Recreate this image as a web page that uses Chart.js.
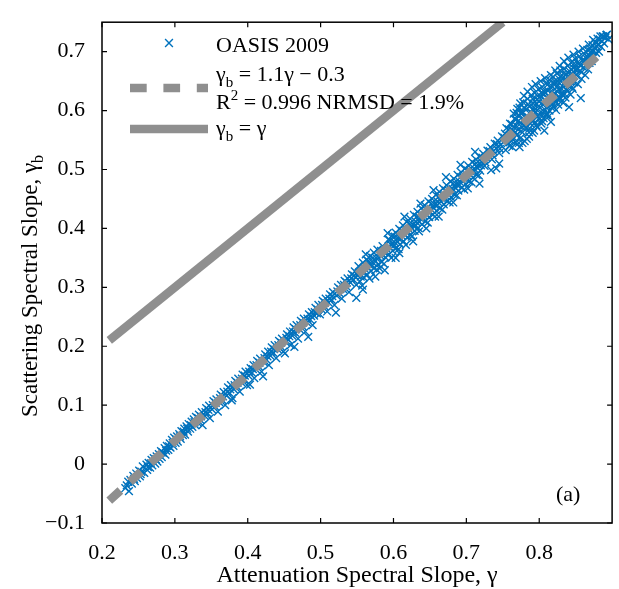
<!DOCTYPE html>
<html>
<head>
<meta charset="utf-8">
<script src="https://cdn.jsdelivr.net/npm/chart.js@4.4.1/dist/chart.umd.min.js"></script>
<style>
  html, body { margin: 0; padding: 0; background: #fff; }
  #wrap { width: 619px; height: 589px; }
</style>
</head>
<body>
<div id="wrap"><canvas id="slopeChart" width="619" height="589"></canvas></div>
<script>
/* DATEN */
const xTicks = [0.2, 0.3, 0.4, 0.5, 0.6, 0.7, 0.8];
const yTicks = [-0.1, 0, 0.1, 0.2, 0.3, 0.4, 0.5, 0.6, 0.7];

const fitGamma = [0.21, 0.88];
const fitGammaB = [-0.062, 0.693];
const oneToOneGamma = [0.21, 0.75];
const oneToOneGammaB = [0.21, 0.75];

// OASIS 2009: [gamma, gamma_b]
const oasisPoints = [
  [0.232,-0.041],[0.236,-0.030],[0.237,-0.046],[0.239,-0.027],
  [0.241,-0.033],[0.243,-0.020],[0.245,-0.029],[0.247,-0.016],[0.248,-0.024],
  [0.251,-0.011],[0.252,-0.021],[0.254,-0.013],[0.256,-0.004],[0.258,-0.015],
  [0.261,-0.001],[0.262,-0.010],[0.264,0.002],[0.266,-0.006],[0.268,0.007],[0.269,-0.002],
  [0.271,0.010],[0.273,0.001],[0.275,0.013],[0.276,0.004],[0.278,0.017],[0.279,0.009],
  [0.281,0.022],[0.282,0.012],[0.284,0.019],[0.286,0.027],[0.287,0.016],[0.289,0.031],
  [0.291,0.024],[0.293,0.035],[0.294,0.028],[0.296,0.041],[0.298,0.031],[0.299,0.045],
  [0.301,0.036],[0.303,0.047],[0.304,0.038],[0.306,0.051],[0.308,0.043],[0.309,0.056],
  [0.311,0.049],[0.313,0.060],[0.314,0.050],[0.316,0.064],[0.318,0.055],[0.319,0.068],
  [0.321,0.060],[0.323,0.072],[0.324,0.063],[0.326,0.076],[0.328,0.066],[0.329,0.080],
  [0.331,0.071],[0.333,0.084],[0.335,0.075],[0.337,0.088],[0.338,0.066],
  [0.341,0.082],[0.343,0.095],[0.345,0.086],[0.347,0.099],[0.348,0.078],
  [0.351,0.093],[0.353,0.107],[0.355,0.098],[0.357,0.110],[0.359,0.089],
  [0.361,0.105],[0.363,0.118],[0.365,0.109],[0.367,0.122],[0.369,0.100],
  [0.371,0.116],[0.373,0.130],[0.375,0.121],[0.377,0.134],[0.378,0.108],[0.379,0.112],
  [0.381,0.127],[0.383,0.141],[0.385,0.132],[0.387,0.145],[0.389,0.123],
  [0.391,0.139],[0.393,0.152],[0.395,0.143],[0.397,0.157],[0.399,0.134],
  [0.401,0.150],[0.403,0.135],[0.404,0.163],[0.406,0.155],[0.408,0.168],[0.409,0.146],
  [0.411,0.161],[0.413,0.175],[0.415,0.166],[0.417,0.179],[0.419,0.157],[0.421,0.149],
  [0.422,0.173],[0.424,0.186],[0.426,0.177],[0.428,0.191],[0.429,0.168],
  [0.431,0.184],[0.433,0.198],[0.435,0.189],[0.437,0.202],[0.439,0.180],
  [0.441,0.195],[0.443,0.209],[0.445,0.200],[0.447,0.213],[0.449,0.191],[0.451,0.188],
  [0.452,0.207],[0.454,0.220],[0.456,0.211],[0.458,0.225],[0.459,0.202],
  [0.461,0.218],[0.463,0.232],[0.464,0.199],[0.465,0.223],[0.467,0.236],[0.469,0.213],
  [0.471,0.229],[0.473,0.243],[0.475,0.234],[0.477,0.247],[0.479,0.225],
  [0.481,0.241],[0.483,0.216],[0.484,0.254],[0.486,0.245],[0.488,0.258],[0.489,0.236],
  [0.491,0.252],[0.493,0.265],[0.495,0.256],[0.497,0.270],[0.499,0.254],
  [0.501,0.263],[0.503,0.277],[0.505,0.268],[0.507,0.281],[0.509,0.259],
  [0.511,0.274],[0.513,0.288],[0.515,0.279],[0.517,0.292],[0.519,0.270],[0.521,0.257],
  [0.522,0.286],[0.524,0.300],[0.526,0.290],[0.528,0.304],[0.529,0.281],
  [0.531,0.297],[0.533,0.311],[0.535,0.302],[0.537,0.315],[0.539,0.292],
  [0.541,0.308],[0.543,0.322],[0.545,0.313],[0.547,0.327],[0.549,0.282],[0.549,0.304],
  [0.551,0.320],[0.552,0.336],[0.554,0.310],[0.556,0.328],[0.558,0.296],[0.558,0.342],[0.559,0.317],
  [0.561,0.331],[0.562,0.356],[0.563,0.347],[0.564,0.321],[0.566,0.339],[0.568,0.353],[0.569,0.328],
  [0.571,0.343],[0.573,0.359],[0.574,0.333],[0.575,0.318],[0.576,0.350],[0.578,0.364],[0.579,0.339],
  [0.581,0.332],[0.582,0.354],[0.584,0.343],[0.585,0.370],[0.586,0.361],[0.588,0.329],[0.589,0.351],
  [0.591,0.365],[0.592,0.392],[0.593,0.381],[0.594,0.356],[0.596,0.373],[0.598,0.388],[0.599,0.362],
  [0.601,0.377],[0.603,0.393],[0.603,0.350],[0.604,0.367],[0.606,0.384],[0.608,0.358],[0.608,0.399],[0.609,0.373],
  [0.611,0.388],[0.613,0.405],[0.614,0.378],[0.615,0.420],[0.616,0.396],[0.618,0.411],[0.619,0.385],
  [0.621,0.399],[0.623,0.416],[0.624,0.389],[0.626,0.407],[0.627,0.378],[0.628,0.423],[0.629,0.396],
  [0.631,0.411],[0.633,0.428],[0.634,0.401],[0.636,0.418],[0.637,0.442],[0.638,0.434],[0.639,0.407],
  [0.641,0.422],[0.643,0.439],[0.644,0.412],[0.645,0.400],[0.646,0.430],[0.648,0.446],[0.649,0.419],
  [0.651,0.433],[0.653,0.450],[0.654,0.423],[0.655,0.465],[0.656,0.441],[0.658,0.457],[0.659,0.430],
  [0.661,0.445],[0.662,0.420],[0.663,0.462],[0.664,0.434],[0.666,0.452],[0.668,0.468],[0.669,0.441],
  [0.671,0.456],[0.672,0.487],[0.673,0.473],[0.674,0.446],[0.676,0.464],[0.678,0.480],[0.679,0.453],
  [0.681,0.467],[0.682,0.444],[0.683,0.484],[0.684,0.457],[0.686,0.475],[0.688,0.491],[0.689,0.464],
  [0.691,0.479],[0.692,0.508],[0.693,0.495],[0.694,0.469],[0.696,0.486],[0.698,0.502],[0.699,0.475],
  [0.701,0.490],[0.702,0.468],[0.703,0.506],[0.704,0.480],[0.706,0.497],[0.708,0.513],[0.709,0.486],
  [0.711,0.501],[0.712,0.530],[0.713,0.517],[0.714,0.491],[0.716,0.508],[0.718,0.476],[0.718,0.522],[0.719,0.498],
  [0.721,0.513],[0.723,0.527],[0.725,0.506],[0.727,0.520],[0.729,0.532],
  [0.731,0.524],[0.733,0.538],[0.734,0.499],[0.735,0.517],[0.737,0.531],[0.739,0.544],
  [0.741,0.502],[0.741,0.536],[0.743,0.549],[0.745,0.510],[0.745,0.528],[0.747,0.542],[0.749,0.556],
  [0.751,0.546],[0.753,0.561],[0.754,0.533],[0.756,0.553],[0.758,0.568],[0.759,0.540],
  [0.761,0.557],[0.762,0.577],[0.763,0.538],[0.764,0.566],[0.766,0.586],[0.767,0.547],[0.768,0.575],[0.769,0.596],[0.769,0.558],
  [0.771,0.568],[0.772,0.590],[0.773,0.538],[0.773,0.605],[0.774,0.553],[0.775,0.579],[0.776,0.598],[0.777,0.563],[0.778,0.614],[0.779,0.585],
  [0.781,0.572],[0.782,0.601],[0.783,0.552],[0.784,0.620],[0.785,0.589],[0.786,0.563],[0.787,0.608],[0.788,0.578],[0.789,0.626],[0.789,0.596],
  [0.791,0.584],[0.792,0.612],[0.793,0.566],[0.794,0.630],[0.795,0.598],[0.796,0.575],[0.797,0.619],[0.798,0.590],[0.799,0.636],[0.799,0.607],
  [0.801,0.596],[0.802,0.624],[0.803,0.578],[0.804,0.640],[0.805,0.610],[0.806,0.587],[0.807,0.566],[0.807,0.632],[0.808,0.601],[0.809,0.646],[0.809,0.617],
  [0.811,0.607],[0.812,0.634],[0.813,0.590],[0.814,0.652],[0.815,0.621],[0.816,0.581],[0.817,0.642],[0.818,0.611],[0.819,0.657],[0.819,0.628],
  [0.821,0.618],[0.822,0.645],[0.823,0.601],[0.824,0.663],[0.825,0.632],[0.826,0.610],[0.827,0.654],[0.828,0.623],[0.829,0.668],[0.829,0.639],
  [0.831,0.629],[0.832,0.655],[0.833,0.613],[0.834,0.671],[0.835,0.643],[0.836,0.622],[0.837,0.662],[0.838,0.635],[0.839,0.676],[0.839,0.650],
  [0.841,0.606],[0.841,0.641],[0.842,0.666],[0.843,0.627],[0.844,0.681],[0.845,0.654],[0.846,0.637],[0.847,0.672],[0.848,0.648],[0.849,0.688],
  [0.851,0.660],[0.852,0.681],[0.853,0.645],[0.855,0.692],[0.856,0.668],[0.857,0.621],[0.858,0.654],[0.859,0.685],
  [0.861,0.673],[0.862,0.696],[0.863,0.660],[0.865,0.688],[0.866,0.703],[0.867,0.670],[0.868,0.694],[0.869,0.681],
  [0.871,0.700],[0.872,0.684],[0.873,0.711],[0.875,0.692],[0.876,0.706],[0.877,0.716],[0.878,0.698],[0.879,0.709],
  [0.881,0.713],[0.882,0.700],[0.883,0.721],[0.885,0.708],[0.886,0.718],[0.887,0.726],[0.889,0.714],[0.891,0.724],[0.893,0.729],[0.895,0.721],
  // dichter Kern
  [0.234,-0.036],[0.244,-0.025],[0.253,-0.017],[0.263,-0.005],[0.267,0.001],[0.274,0.008],[0.283,0.020],[0.288,0.023],
  [0.292,0.030],[0.297,0.036],[0.302,0.042],[0.307,0.047],[0.312,0.055],[0.317,0.060],[0.322,0.066],[0.327,0.071],
  [0.332,0.078],[0.336,0.081],[0.342,0.088],[0.346,0.092],[0.352,0.100],[0.356,0.104],[0.362,0.112],[0.366,0.115],
  [0.372,0.123],[0.376,0.127],[0.382,0.134],[0.386,0.138],[0.392,0.145],[0.396,0.150],[0.402,0.157],[0.407,0.161],
  [0.412,0.168],[0.416,0.172],[0.423,0.180],[0.427,0.183],[0.432,0.191],[0.436,0.195],[0.442,0.202],[0.446,0.206],
  [0.453,0.214],[0.457,0.217],[0.462,0.225],[0.466,0.229],[0.472,0.236],[0.476,0.240],[0.482,0.247],[0.487,0.251],
  [0.492,0.258],[0.496,0.262],[0.502,0.270],[0.506,0.274],[0.512,0.281],[0.516,0.285],[0.523,0.293],[0.527,0.297],
  [0.532,0.304],[0.536,0.308],[0.542,0.315],[0.546,0.320],
  [0.553,0.325],[0.557,0.303],[0.565,0.345],[0.567,0.315],[0.572,0.350],[0.577,0.330],[0.583,0.362],[0.587,0.340],
  [0.595,0.380],[0.597,0.350],[0.602,0.386],[0.607,0.365],[0.612,0.396],[0.617,0.372],[0.622,0.408],[0.625,0.386],
  [0.632,0.420],[0.635,0.395],[0.642,0.430],[0.647,0.410],[0.652,0.442],[0.657,0.420],[0.662,0.454],[0.667,0.432],
  [0.672,0.464],[0.677,0.444],[0.682,0.476],[0.687,0.456],[0.692,0.487],[0.697,0.466],[0.702,0.498],[0.707,0.478],
  [0.712,0.509],[0.717,0.490],
  [0.555,0.318],[0.560,0.325],[0.565,0.333],[0.570,0.336],[0.575,0.345],[0.580,0.350],[0.585,0.355],[0.590,0.358],
  [0.595,0.368],[0.600,0.370],[0.605,0.378],[0.610,0.382],[0.615,0.390],[0.620,0.393],[0.625,0.400],[0.630,0.404],
  [0.635,0.412],[0.640,0.416],[0.645,0.424],[0.650,0.428],[0.655,0.435],[0.660,0.439],[0.665,0.446],[0.670,0.450],
  [0.675,0.458],[0.680,0.462],[0.685,0.469],[0.690,0.473],[0.695,0.481],[0.700,0.484],[0.705,0.492],[0.710,0.496],
  [0.715,0.503],[0.720,0.507],
  [0.722,0.520],[0.726,0.512],[0.732,0.531],[0.736,0.524],[0.742,0.543],[0.746,0.535],[0.752,0.554],[0.755,0.570],
  [0.757,0.545],[0.760,0.578],[0.762,0.548],[0.765,0.595],[0.767,0.563],[0.770,0.603],[0.772,0.545],[0.774,0.612],
  [0.776,0.572],[0.779,0.625],[0.780,0.548],[0.782,0.588],[0.784,0.632],[0.786,0.556],[0.788,0.598],[0.790,0.640],
  [0.791,0.562],[0.793,0.605],[0.795,0.645],[0.797,0.572],[0.800,0.615],[0.802,0.650],[0.804,0.582],[0.806,0.628],
  [0.808,0.655],[0.810,0.592],[0.812,0.645],[0.814,0.600],[0.816,0.660],[0.818,0.632],[0.820,0.606],[0.822,0.668],
  [0.824,0.640],[0.826,0.618],[0.828,0.676],[0.830,0.650],[0.832,0.626],[0.834,0.684],[0.836,0.660],[0.838,0.645],
  [0.840,0.690],[0.843,0.660],[0.845,0.640],[0.847,0.695],[0.850,0.670],[0.854,0.700],[0.857,0.676],[0.860,0.705],
  [0.864,0.683],[0.868,0.712],[0.870,0.692],[0.874,0.720],[0.880,0.722],[0.884,0.726],[0.888,0.726],[0.892,0.728],
  [0.763,0.552],[0.765,0.572],[0.768,0.585],[0.770,0.560],[0.771,0.582],[0.775,0.595],[0.777,0.545],[0.779,0.605],
  [0.780,0.575],[0.783,0.590],[0.785,0.610],[0.787,0.570],[0.789,0.585],[0.791,0.620],[0.792,0.600],[0.794,0.580],
  [0.796,0.612],[0.798,0.625],[0.800,0.585],[0.801,0.605],[0.803,0.630],[0.805,0.595],[0.807,0.612],[0.809,0.630],
  [0.811,0.595],[0.813,0.620],[0.815,0.640],[0.817,0.605],[0.819,0.625],[0.821,0.650],[0.823,0.615],[0.825,0.650],
  [0.827,0.635],[0.829,0.620],[0.831,0.660],[0.833,0.640],[0.835,0.628],[0.837,0.650],[0.839,0.665],[0.842,0.650],
  [0.844,0.670],[0.846,0.660],[0.848,0.680],[0.852,0.670],[0.855,0.680],[0.858,0.665],[0.862,0.685],[0.866,0.692],
  [0.870,0.705],[0.874,0.700],[0.878,0.715],[0.882,0.712]
];

const SERIF = '"Liberation Serif", "DejaVu Serif", serif';
const BLUE = "#0072bd";
const GRAY = "#8f8f8f";

/* TEXT MIT SUB/SUPERSCRIPT */
function richWidth(ctx, parts, size = 22) {
  let w = 0;
  parts.forEach(p => {
    ctx.font = (p.sub || p.sup ? Math.round(size * 0.68) : size) + "px " + SERIF;
    w += ctx.measureText(p.t).width;
  });
  return w;
}

function drawRich(ctx, parts, x, y, size = 22) {
  parts.forEach(p => {
    ctx.font = (p.sub || p.sup ? Math.round(size * 0.68) : size) + "px " + SERIF;
    const dy = p.sub ? size * 0.28 : p.sup ? -size * 0.4 : 0;
    ctx.fillText(p.t, x, y + dy);
    x += ctx.measureText(p.t).width;
  });
}

function drawCross(ctx, x, y, r) {
  ctx.beginPath();
  ctx.moveTo(x - r, y - r); ctx.lineTo(x + r, y + r);
  ctx.moveTo(x - r, y + r); ctx.lineTo(x + r, y - r);
  ctx.stroke();
}

/* RAHMEN, TICKS, TITEL, LEGENDE */
const decorations = {
  id: "decorations",
  afterDraw(chart) {
    const { ctx, chartArea: a, scales } = chart;
    ctx.save();
    ctx.strokeStyle = "#000";
    ctx.lineWidth = 1.5;
    ctx.strokeRect(a.left, a.top, a.right - a.left, a.bottom - a.top);

    ctx.lineWidth = 1.2;
    ctx.beginPath();
    xTicks.forEach(v => {
      const px = scales.x.getPixelForValue(v);
      ctx.moveTo(px, a.bottom); ctx.lineTo(px, a.bottom - 5);
      ctx.moveTo(px, a.top); ctx.lineTo(px, a.top + 5);
    });
    yTicks.forEach(v => {
      const py = scales.y.getPixelForValue(v);
      ctx.moveTo(a.left, py); ctx.lineTo(a.left + 5, py);
      ctx.moveTo(a.right, py); ctx.lineTo(a.right - 5, py);
    });
    ctx.stroke();

    ctx.fillStyle = "#000";
    ctx.textBaseline = "alphabetic";
    ctx.textAlign = "left";

    // x-Achsentitel
    const xt = [{ t: "Attenuation Spectral Slope, γ" }];
    drawRich(ctx, xt, (a.left + a.right) / 2 - richWidth(ctx, xt, 24) / 2, 582, 24);

    // y-Achsentitel
    const yt = [{ t: "Scattering Spectral Slope, γ" }, { t: "b", sub: true }];
    ctx.save();
    ctx.translate(37, 286);
    ctx.rotate(-Math.PI / 2);
    drawRich(ctx, yt, -richWidth(ctx, yt, 23) / 2, 0, 23);
    ctx.restore();

    // (a)
    drawRich(ctx, [{ t: "(a)" }], 556, 501);

    // Legende
    ctx.strokeStyle = BLUE;
    ctx.lineWidth = 1.4;
    drawCross(ctx, 169, 43, 3.9);
    drawRich(ctx, [{ t: "OASIS 2009" }], 216, 52);

    ctx.strokeStyle = GRAY;
    ctx.lineWidth = 8.5;
    ctx.lineCap = "butt";
    ctx.setLineDash([16.7, 16.7]);
    ctx.beginPath(); ctx.moveTo(130, 88); ctx.lineTo(208, 88); ctx.stroke();
    ctx.setLineDash([]);
    drawRich(ctx, [{ t: "γ" }, { t: "b", sub: true }, { t: " = 1.1γ − 0.3" }], 216, 81);
    drawRich(ctx, [{ t: "R" }, { t: "2", sup: true }, { t: " = 0.996 NRMSD = 1.9%" }], 216, 109);

    ctx.beginPath(); ctx.moveTo(130, 129); ctx.lineTo(208, 129); ctx.stroke();
    drawRich(ctx, [{ t: "γ" }, { t: "b", sub: true }, { t: " = γ" }], 216, 135);
    ctx.restore();
  }
};

function fmtTick(v) {
  if (Math.abs(v) < 1e-9) return "0";
  return (v < 0 ? "−" : "") + Math.abs(v).toFixed(1);
}

/* DIAGRAMM */
const chart = new Chart(document.getElementById("slopeChart"), {
  type: "scatter",
  data: {
    datasets: [
      {
        label: "γb = 1.1γ − 0.3",
        data: fitGamma.map((g, i) => ({ x: g, y: fitGammaB[i] })),
        showLine: true,
        borderColor: GRAY,
        borderWidth: 8.5,
        borderDash: [15, 13],
        borderCapStyle: "butt",
        pointRadius: 0,
        order: 0
      },
      {
        label: "γb = γ",
        data: oneToOneGamma.map((g, i) => ({ x: g, y: oneToOneGammaB[i] })),
        showLine: true,
        borderColor: GRAY,
        borderWidth: 8.5,
        borderCapStyle: "butt",
        pointRadius: 0,
        order: 1
      },
      {
        label: "OASIS 2009",
        data: oasisPoints.map(p => ({ x: p[0], y: p[1] })),
        pointStyle: "crossRot",
        pointRadius: 5.5,
        borderColor: BLUE,
        backgroundColor: BLUE,
        pointBorderWidth: 1.4,
        order: 2
      }
    ]
  },
  options: {
    responsive: false,
    devicePixelRatio: 1,
    animation: false,
    events: [],
    layout: { padding: { top: 11, right: 6, left: 0, bottom: 0 } },
    plugins: { legend: { display: false }, tooltip: { enabled: false } },
    scales: {
      x: {
        type: "linear",
        min: 0.2,
        max: 0.9,
        afterBuildTicks: s => { s.ticks = xTicks.map(v => ({ value: v })); },
        afterFit: s => { s.height = 66; },
        ticks: {
          color: "#000",
          font: { family: SERIF, size: 22 },
          padding: 9,
          maxRotation: 0,
          autoSkip: false,
          callback: fmtTick
        },
        grid: { display: false },
        border: { display: false }
      },
      y: {
        type: "linear",
        min: -0.1,
        max: 0.75,
        afterBuildTicks: s => { s.ticks = yTicks.map(v => ({ value: v })); },
        afterFit: s => { s.width = 102; },
        ticks: {
          color: "#000",
          font: { family: SERIF, size: 22 },
          padding: 9,
          autoSkip: false,
          callback: fmtTick
        },
        grid: { display: false },
        border: { display: false }
      }
    }
  },
  plugins: [decorations]
});
</script>
</body>
</html>
